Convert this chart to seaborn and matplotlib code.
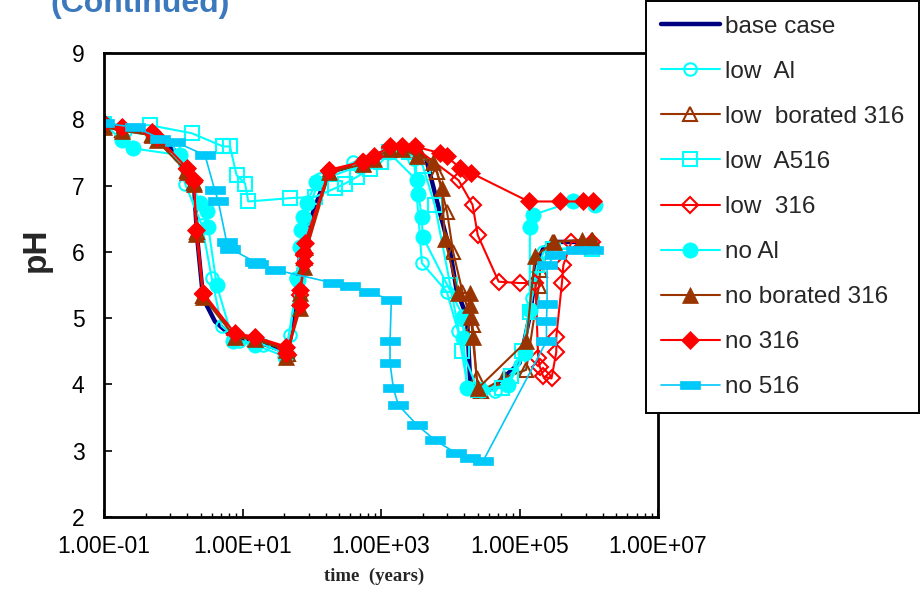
import matplotlib
matplotlib.use("Agg")
import matplotlib.pyplot as plt
import matplotlib.ticker as mticker
from matplotlib.path import Path
import seaborn as sns

# ---- data (time in years, pH) ----
base_t = [0.1, 0.18, 0.5, 1.0, 1.6, 2.0, 2.2, 2.7, 4.0, 7.5, 15, 40, 45, 60, 70, 170, 500, 1300,
          3000, 4500, 7100, 1.0e4, 1.23e4, 1.74e4, 1.95e4, 3.7e4, 1.0e5, 1.4e5, 1.8e5, 2.2e5, 3.0e5, 1.1e6]
base_ph = [7.92, 7.86, 7.78, 7.55, 7.22, 7.0, 6.25, 5.3, 4.95, 4.7, 4.66, 4.5, 4.44, 5.3, 6.1, 7.2, 7.33, 7.55,
           7.55, 7.4, 6.59, 6.0, 5.43, 5.02, 4.0, 3.92, 4.32, 5.02, 5.83, 6.05, 6.15, 6.15]

lowal_t = [0.1, 0.2, 0.5, 1.0, 1.48, 2.6, 3.6, 5.0, 9.0, 20, 45, 48.5, 60, 80, 130, 400, 1300,
           3000, 3900, 8900, 1.3e4, 1.8e4, 4.5e4, 1.0e5, 1.5e5, 2.2e5, 1.1e6]
lowal_ph = [7.93, 7.82, 7.76, 7.6, 7.03, 6.4, 5.6, 4.88, 4.66, 4.6, 4.45, 4.75, 5.6, 6.5, 7.1, 7.35, 7.5,
            7.4, 5.83, 5.4, 4.8, 3.95, 3.9, 4.3, 5.3, 6.0, 6.1]

lowbor_t = [0.1, 0.18, 0.5, 1.6, 2.0, 2.2, 2.7, 7.8, 15, 43, 45, 68, 77, 180, 550, 1350,
            3500, 6500, 9000, 1.1e4, 1.5e4, 2.1e4, 2.4e4, 2.8e4, 6.0e4, 1.25e5, 1.9e5, 2.0e5, 3.0e5, 1.1e6]
lowbor_ph = [7.9, 7.84, 7.76, 7.22, 7.04, 6.3, 5.33, 4.73, 4.69, 4.52, 4.46, 5.3, 5.9, 7.2, 7.33, 7.55,
             7.5, 7.2, 6.6, 6.0, 5.4, 4.9, 4.1, 3.9, 4.1, 4.22, 5.48, 5.73, 6.15, 6.18]

lowa516_t = [0.1, 0.46, 1.85, 5.25, 6.6, 8.2, 10.9, 12.1, 48.5, 112, 219, 302, 447, 700, 1000, 1300,
             2500, 4000, 6000, 1.0e4, 1.5e4, 2.5e4, 5.5e4, 7.5e4, 1.1e5, 1.4e5, 1.8e5, 3.0e5, 1.1e6]
lowa516_ph = [7.93, 7.91, 7.79, 7.59, 7.59, 7.16, 7.03, 6.76, 6.81, 6.83, 6.96, 7.03, 7.13, 7.25, 7.35, 7.5,
              7.5, 7.3, 6.7, 5.5, 4.5, 3.92, 3.95, 4.12, 4.5, 5.1, 5.8, 6.05, 6.05]

low316_t = [0.1, 0.18, 0.5, 1.6, 2.0, 2.2, 2.7, 7.8, 15, 43, 45, 68, 77, 180, 550, 1350, 2000, 3100,
            1.32e4, 2.1e4, 2.5e4, 5.0e4, 1.0e5, 1.7e5, 1.86e5, 1.96e5, 2.2e5, 2.9e5, 3.4e5, 3.4e5,
            4.1e5, 4.3e5, 5.6e5, 1.1e6]
low316_ph = [7.93, 7.87, 7.8, 7.25, 7.06, 6.32, 5.36, 4.75, 4.7, 4.55, 4.45, 5.35, 5.95, 7.22, 7.35, 7.57, 7.57, 7.57,
             7.08, 6.71, 6.25, 5.55, 5.53, 5.53, 4.4, 4.27, 4.12, 4.09, 4.49, 4.72,
             5.53, 5.8, 6.15, 6.15]

noal_t = [0.1, 0.18, 0.265, 1.25, 2.43, 3.04, 3.2, 4.24, 7.36, 15, 41, 64, 67, 71, 75, 84, 117, 500, 1300,
          3270, 3470, 3870, 4000, 1.55e4, 1.55e4, 1.74e4, 2.8e4, 6.9e4, 1.2e5, 1.41e5, 1.41e5, 1.58e5, 6.0e5, 1.23e6]
noal_ph = [7.93, 7.69, 7.56, 7.46, 6.73, 6.61, 6.38, 5.5, 4.65, 4.6, 4.42, 5.58, 6.08, 6.33, 6.53, 6.73, 7.06, 7.3, 7.5,
           7.08, 6.88, 6.53, 6.23, 5.02, 4.70, 3.94, 3.92, 3.99, 4.47, 5.12, 6.38, 6.56, 6.76, 6.71]

nobor_t = [0.1, 0.18, 0.49, 0.58, 1.6, 2.0, 2.15, 2.7, 7.8, 15, 43, 43, 68, 68, 77, 77, 79, 180, 550, 780,
           1350, 2000, 3300, 5700, 7600, 8300, 1.3e4, 1.93e4, 1.93e4, 2.0e4, 2.1e4, 2.5e4, 1.26e5, 1.66e5,
           3.2e5, 8.0e5, 1.1e6]
nobor_ph = [7.88, 7.83, 7.76, 7.68, 7.2, 7.02, 6.27, 5.32, 4.71, 4.68, 4.52, 4.42, 5.15, 5.38, 5.77, 5.92, 6.08, 7.2, 7.32, 7.4,
            7.55, 7.55, 7.45, 7.36, 6.96, 6.2, 5.38, 5.38, 5.2, 5.02, 4.72, 3.94, 4.65, 5.93,
            6.15, 6.18, 6.18]

no316_t = [0.1, 0.18, 0.49, 0.58, 1.6, 2.0, 2.15, 2.7, 7.8, 15, 43, 43, 68, 68, 77, 77, 79, 180, 550, 780,
           1350, 2000, 3100, 7100, 8900, 1.4e4, 2.0e4, 1.35e5, 3.8e5, 8.3e5, 1.17e6]
no316_ph = [7.95, 7.88, 7.81, 7.74, 7.26, 7.08, 6.33, 5.38, 4.77, 4.72, 4.57, 4.47, 5.20, 5.43, 5.83, 5.98, 6.13, 7.24, 7.36, 7.44,
            7.59, 7.59, 7.59, 7.49, 7.44, 7.26, 7.19, 6.76, 6.76, 6.76, 6.76]

no516_t = [0.1, 0.28, 0.65, 1.06, 2.87, 3.98, 4.47, 5.9, 6.6, 15.1, 16.9, 29.5, 204, 355, 660, 1410,
           1350, 1350, 1510, 1780, 3300, 6000, 1.23e4, 1.95e4, 3.0e4, 2.45e5, 2.45e5, 2.5e5, 2.5e5,
           3.3e5, 6.6e5, 1.15e6]
no516_ph = [7.94, 7.88, 7.71, 7.66, 7.46, 6.93, 6.76, 6.15, 6.05, 5.85, 5.82, 5.73, 5.53, 5.48, 5.40, 5.27,
            4.65, 4.32, 3.94, 3.69, 3.39, 3.16, 2.96, 2.89, 2.85, 4.65, 4.95, 5.22, 5.8,
            5.95, 6.03, 6.03]

labels = ["base case", "low  Al", "low  borated 316", "low  A516", "low  316",
          "no Al", "no borated 316", "no 316", "no 516"]
x_ticks = [0.1, 10, 1e3, 1e5, 1e7]
y_ticks = [2, 3, 4, 5, 6, 7, 8, 9]

navy, cyan, brown, red, sky = "#000080", "#00FFFF", "#993300", "#FF0000", "#00C8F8"
rect = Path([(-1, -0.42), (1, -0.42), (1, 0.42), (-1, 0.42), (-1, -0.42)],
            [Path.MOVETO, Path.LINETO, Path.LINETO, Path.LINETO, Path.CLOSEPOLY])

styles = [
    dict(color=navy, lw=3.2),
    dict(color=cyan, lw=1.5, marker="o", ms=9, mfc="none", mec=cyan, mew=1.5),
    dict(color=brown, lw=1.5, marker="^", ms=10, mfc="none", mec=brown, mew=1.5),
    dict(color=cyan, lw=1.5, marker="s", ms=10, mfc="none", mec=cyan, mew=1.5),
    dict(color=red, lw=1.5, marker="D", ms=8, mfc="none", mec=red, mew=1.5),
    dict(color=cyan, lw=1.5, marker="o", ms=11, mfc=cyan, mec=cyan, mew=0.5),
    dict(color=brown, lw=1.5, marker="^", ms=11, mfc=brown, mec=brown, mew=0.5),
    dict(color=red, lw=1.5, marker="D", ms=9, mfc=red, mec=red, mew=0.5),
    dict(color=sky, lw=1.2, marker=rect, ms=15, mfc=sky, mec=sky, mew=0.5),
]
data = [(base_t, base_ph), (lowal_t, lowal_ph), (lowbor_t, lowbor_ph), (lowa516_t, lowa516_ph),
        (low316_t, low316_ph), (noal_t, noal_ph), (nobor_t, nobor_ph), (no316_t, no316_ph),
        (no516_t, no516_ph)]

sns.set_style("ticks")
plt.rcParams["font.family"] = ["Liberation Sans", "DejaVu Sans"]

fig = plt.figure(figsize=(9.22, 5.98), dpi=100)
ax = fig.add_axes([104 / 922, 1 - 517 / 598, (658 - 104) / 922, (517 - 53) / 598])
ax.set_xscale("log")

for (t, ph), st in zip(data, styles):
    sns.lineplot(x=t, y=ph, ax=ax, sort=False, estimator=None, legend=False, **st)

ax.set_xlim(0.1, 1e7)
ax.set_ylim(2, 9)
ax.set_xticks(x_ticks)
ax.xaxis.set_major_formatter(mticker.FuncFormatter(lambda v, p: f"{v:.2E}"))
ax.xaxis.set_minor_locator(mticker.FixedLocator([m * k * k for m in x_ticks[:-1] for k in range(2, 10)]))
ax.xaxis.set_minor_formatter(mticker.NullFormatter())
ax.set_yticks(y_ticks)
ax.tick_params(axis="both", which="both", direction="in", labelsize=16.5, colors="black")
ax.tick_params(axis="x", which="major", length=6, width=1.2, pad=13)
ax.tick_params(axis="x", which="minor", length=3, width=1.0)
ax.tick_params(axis="y", which="major", length=6, width=1.2, pad=14)
for s in ax.spines.values():
    s.set_linewidth(2)
    s.set_color("black")

ax.set_ylabel("pH", fontsize=24, fontweight="bold")
ax.yaxis.set_label_coords(-0.095, 0.575)
ax.set_xlabel("time  (years)", fontsize=13.5, fontweight="bold", family=["Liberation Serif", "DejaVu Serif"])
ax.xaxis.set_label_coords(0.487, -0.11)

fig.text(50 / 922, 1 - 12 / 598, "(Continued)", fontsize=23, fontweight="bold",
         color="#3B78BD", va="baseline", ha="left")

leg = fig.legend(ax.get_lines(), labels, loc="upper left", bbox_to_anchor=(646 / 922, 1 - 1 / 598),
                 bbox_transform=fig.transFigure, frameon=True, fancybox=False, edgecolor="black",
                 framealpha=1, fontsize=17.5, handlelength=2.45, handletextpad=0.2,
                 labelspacing=0.95, borderpad=0.6, borderaxespad=0, numpoints=1)
leg.get_frame().set_linewidth(1.4)

fig.savefig("out.png", dpi=100)
